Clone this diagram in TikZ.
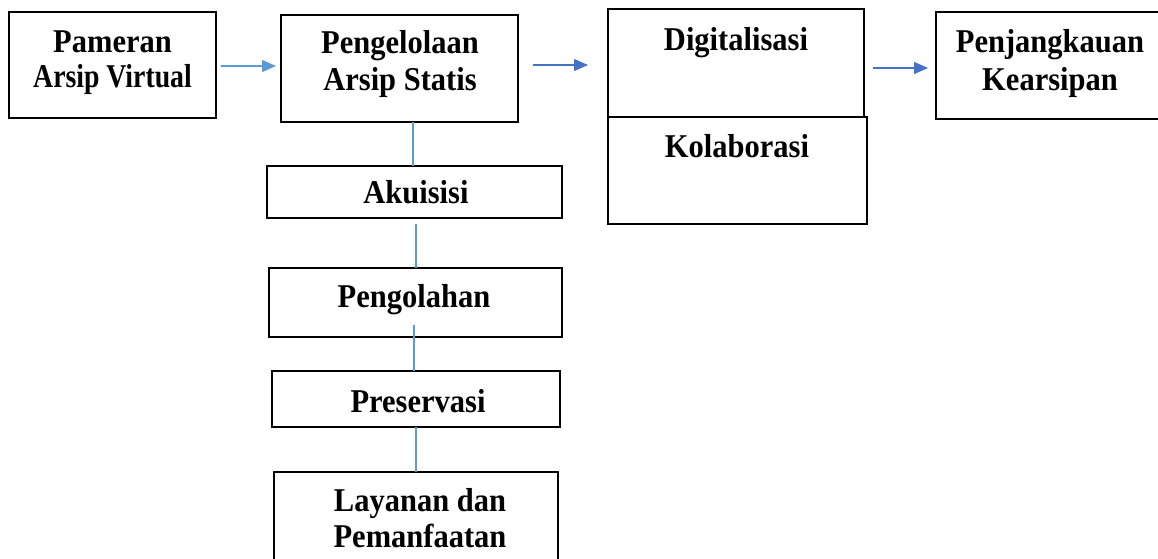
\documentclass[tikz,border=0pt]{standalone}
\usepackage{fontspec}
\setmainfont{Liberation Serif}
\usetikzlibrary{arrows.meta,calc}
\definecolor{lblue}{HTML}{5B9BD5}
\definecolor{dblue}{HTML}{4472C4}
\newcommand{\tallt}[2][1]{\scalebox{#1}[1.09]{#2}}
\begin{document}
\begin{tikzpicture}[x=1pt,y=-1pt,
  box/.style={draw=black,line width=2pt,rectangle,inner sep=0pt,outer sep=0pt},
  txt/.style={anchor=base,font=\bfseries\fontsize{30.5}{36}\selectfont,inner sep=0pt},
  arrA/.style={draw=lblue,line width=1.2pt,-{Triangle[length=14pt,width=12pt]}},
  arrB/.style={draw=dblue,line width=1.2pt,-{Triangle[length=14pt,width=12pt]}},
  vline/.style={draw=lblue,line width=1.2pt}]
\useasboundingbox (0,0) rectangle (1158,558);
\clip (0,0) rectangle (1158,558);
% boxes
\node[box,minimum width=207pt,minimum height=106pt] (pam) at (112.5,65) {};
\node[box,minimum width=237pt,minimum height=107pt] (pen) at (399.5,68.5) {};
\node[box,minimum width=256pt,minimum height=108pt] (dig) at (736,63) {};
\node[box,minimum width=259pt,minimum height=107pt] (kol) at (737.5,170.5) {};
\node[box,minimum width=229pt,minimum height=107pt] (pjk) at (1050.5,65.5) {};
\node[box,minimum width=295pt,minimum height=52pt] (aku) at (414.5,192) {};
\node[box,minimum width=293pt,minimum height=69pt] (pgl) at (415.5,302.5) {};
\node[box,minimum width=288pt,minimum height=56pt] (pre) at (416,399) {};
\node[box,minimum width=284pt,minimum height=108pt] (lay) at (416,526) {};
% texts
\node[txt] (t1) at (112.5,52) {\tallt{Pameran}};
\node[txt] (t2) at (112.5,87) {\tallt[0.91]{Arsip Virtual}};
\node[txt] (t3) at (400,53) {\tallt{Pengelolaan}};
\node[txt] (t4) at (400,90) {\tallt{Arsip Statis}};
\node[txt] (t5) at (736,50) {\tallt{Digitalisasi}};
\node[txt] (t6) at (737,157) {\tallt{Kolaborasi}};
\node[txt] (t7) at (1050,52) {\tallt{Penjangkauan}};
\node[txt] (t8) at (1050,90) {\tallt{Kearsipan}};
\node[txt] (t9) at (416,203) {\tallt{Akuisisi}};
\node[txt] (t10) at (414,307) {\tallt{Pengolahan}};
\node[txt] (t11) at (418,412) {\tallt{Preservasi}};
\node[txt] (t12) at (420,511) {\tallt{Layanan dan}};
\node[txt] (t13) at (420,547) {\tallt{Pemanfaatan}};
% arrows
\draw[arrA] ($(pam.east)+(5,1)$) -- ($(pen.west)+(-5,-2.5)$);
\draw[arrB] ($(pen.east)+(15,-3.5)$) -- ($(dig.west)+(-20,2)$);
\draw[arrB] ($(dig.east)+(9,5)$) -- ($(pjk.west)+(-8,2.5)$);
% vertical connectors
\draw[vline] ($(pen.south)+(13.5,0)$) -- ($(aku.north)+(-1.5,0)$);
\draw[vline] ($(aku.south)+(1.5,6)$) -- ($(pgl.north)+(0.5,0)$);
\draw[vline] ($(pgl.south)+(-1.5,-12)$) -- ($(pre.north)+(-2,0)$);
\draw[vline] (pre.south) -- (lay.north);
\end{tikzpicture}
\end{document}
